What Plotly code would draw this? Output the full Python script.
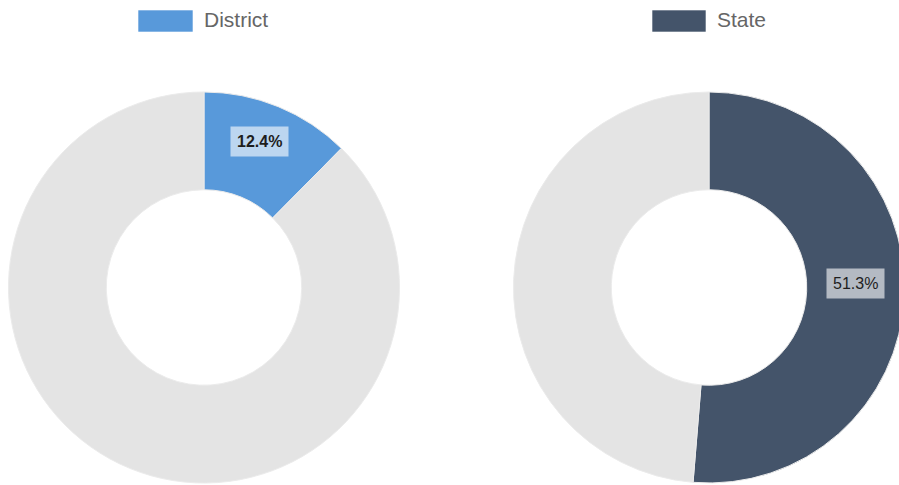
import math
import plotly.graph_objects as go

# ---- data ----
categories = ["District", "State"]
share_pct = [12.4, 51.3]
remainder_pct = [87.6, 48.7]
slice_colors = ["#5899DA", "#44546A"]
rest_color = "#E4E4E4"
label_bold = [True, False]

# ---- layout geometry (pixels) ----
W, H = 910, 485
centers_px = [(204, 287.5), (709, 287.5)]
R = 195.5
HOLE = 0.5

def px_x(x):
    return x / W

def px_y(y):
    return 1 - y / H

fig = go.Figure()
annotations = []
shapes = []

for i, cat in enumerate(categories):
    cx, cy = centers_px[i]
    fig.add_trace(go.Pie(
        labels=[cat, "Rest"],
        values=[share_pct[i], remainder_pct[i]],
        hole=HOLE,
        sort=False,
        direction="clockwise",
        rotation=0,
        marker=dict(colors=[slice_colors[i], rest_color],
                    line=dict(color="rgba(235,235,235,1)", width=1)),
        textinfo="none",
        hoverinfo="skip",
        showlegend=False,
        domain=dict(x=[px_x(cx - R), px_x(cx + R)],
                    y=[px_y(cy + R), px_y(cy - R)]),
    ))
    # value label at middle of slice
    total = share_pct[i] + remainder_pct[i]
    ang = 2 * math.pi * (share_pct[i] / 2) / total
    rmid = R * (1 + HOLE) / 2
    lx = cx + rmid * math.sin(ang)
    ly = cy - rmid * math.cos(ang)
    txt = f"{share_pct[i]:.1f}%"
    if label_bold[i]:
        txt = f"<b>{txt}</b>"
    annotations.append(dict(
        x=px_x(lx), y=px_y(ly), xref="paper", yref="paper",
        text=txt, showarrow=False, yshift=10,
        font=dict(family="Liberation Sans, Arial, sans-serif", size=16, color="#1e1e1e"),
        bgcolor="rgba(255,255,255,0.6)", borderpad=6,
        xanchor="center", yanchor="middle",
    ))

# ---- legends (one per chart) ----
legend_boxes = [(138, 193), (652, 706)]
for i, cat in enumerate(categories):
    x0, x1 = legend_boxes[i]
    shapes.append(dict(type="rect", xref="paper", yref="paper",
                       x0=px_x(x0), x1=px_x(x1), y0=px_y(32), y1=px_y(10),
                       fillcolor=slice_colors[i],
                       line=dict(color="rgba(255,255,255,0.6)", width=1)))
    annotations.append(dict(
        x=px_x(x1 + 9), y=px_y(20), xref="paper", yref="paper",
        text=cat, showarrow=False, xanchor="left", yanchor="middle",
        font=dict(family="Liberation Sans, Arial, sans-serif", size=21, color="#666666"),
    ))

fig.update_layout(
    width=W, height=H,
    margin=dict(l=0, r=0, t=0, b=0),
    paper_bgcolor="white",
    plot_bgcolor="white",
    annotations=annotations,
    shapes=shapes,
)

fig.write_html("out.html",
               config={"displayModeBar": False},
               post_script="document.body.style.margin='0';document.body.style.overflow='hidden';document.documentElement.style.overflow='hidden';")
